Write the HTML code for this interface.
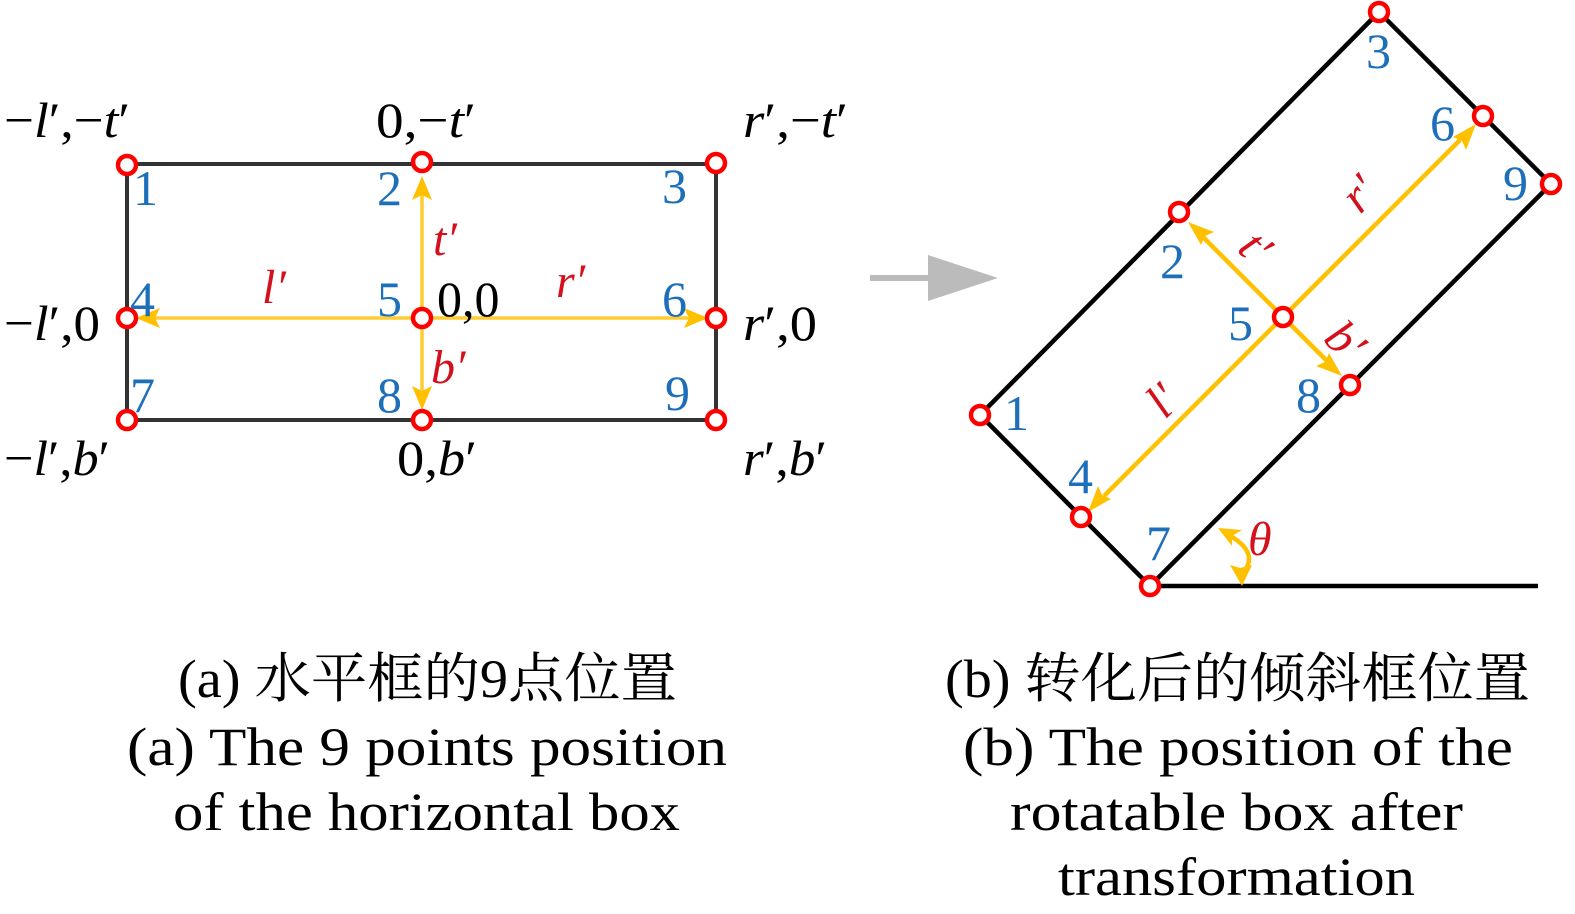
<!DOCTYPE html>
<html><head><meta charset="utf-8"><style>
html,body{margin:0;padding:0;background:#fff;}
svg{display:block;}
text{font-family:"Liberation Serif","Noto Serif CJK SC",serif;}
.b{fill:#1c6fb8;font-size:50px;}
.k{fill:#000;font-size:50px;}
.r{fill:#d4101c;font-size:48px;font-style:italic;}
.c{fill:#000;font-size:54px;}
.pt{fill:#fff;stroke:#f00;stroke-width:4.5;}
</style></head><body>
<svg width="1575" height="914" viewBox="0 0 1575 914" xmlns="http://www.w3.org/2000/svg">
<!-- left box -->
<rect x="127" y="164" width="589" height="256" fill="none" stroke="#333" stroke-width="4"/>
<g stroke="#ffcc33" stroke-width="3.5" fill="none">
<line x1="422" y1="318" x2="422" y2="192"/>
<line x1="422" y1="318" x2="422" y2="394"/>
<line x1="422" y1="318" x2="155" y2="318"/>
<line x1="422" y1="318" x2="690" y2="318"/>
</g>
<g fill="#ffc000">
<polygon points="422,176 412,200 422,195 432,200"/>
<polygon points="422,410 412,386 422,391 432,386"/>
<polygon points="136,318 160,308 155,318 160,328"/>
<polygon points="708,318 684,308 689,318 684,328"/>
</g>
<g class="pt">
<circle cx="127" cy="165" r="9"/><circle cx="422" cy="162" r="9"/><circle cx="716" cy="163" r="9"/>
<circle cx="127" cy="318" r="9"/><circle cx="422" cy="318" r="9"/><circle cx="716" cy="318" r="9"/>
<circle cx="127" cy="420" r="9"/><circle cx="422" cy="420" r="9"/><circle cx="716" cy="420" r="9"/>
</g>
<g class="b">
<text x="133" y="205">1</text><text x="377" y="205">2</text><text x="662" y="203">3</text>
<text x="130" y="316">4</text><text x="377" y="316">5</text><text x="662" y="316">6</text>
<text x="130" y="412">7</text><text x="377" y="412">8</text><text x="665" y="410">9</text>
</g>
<g class="k">
<text x="4" y="137" textLength="126" lengthAdjust="spacingAndGlyphs">−<tspan font-style="italic">l</tspan>′,−<tspan font-style="italic">t</tspan>′</text>
<text x="376" y="137" textLength="100" lengthAdjust="spacingAndGlyphs">0,−<tspan font-style="italic">t</tspan>′</text>
<text x="743" y="137" textLength="105" lengthAdjust="spacingAndGlyphs"><tspan font-style="italic">r</tspan>′,−<tspan font-style="italic">t</tspan>′</text>
<text x="437" y="316">0,0</text>
<text x="4" y="340" textLength="96" lengthAdjust="spacingAndGlyphs">−<tspan font-style="italic">l</tspan>′,0</text>
<text x="743" y="340" textLength="74" lengthAdjust="spacingAndGlyphs"><tspan font-style="italic">r</tspan>′,0</text>
<text x="4" y="475" textLength="106" lengthAdjust="spacingAndGlyphs">−<tspan font-style="italic">l</tspan>′,<tspan font-style="italic">b</tspan>′</text>
<text x="397" y="475" textLength="80" lengthAdjust="spacingAndGlyphs">0,<tspan font-style="italic">b</tspan>′</text>
<text x="743" y="475" textLength="84" lengthAdjust="spacingAndGlyphs"><tspan font-style="italic">r</tspan>′,<tspan font-style="italic">b</tspan>′</text>
</g>
<g class="r">
<text x="262" y="303">l′</text><text x="556" y="297">r′</text>
<text x="433" y="255">t′</text><text x="431" y="383">b′</text>
</g>
<!-- gray arrow -->
<line x1="870" y1="278" x2="932" y2="278" stroke="#bbb" stroke-width="6"/>
<polygon points="928,255 998,278 928,301" fill="#bbb"/>
<!-- right box -->
<polygon points="1379,12 1551,184 1150,586 980,415" fill="none" stroke="#000" stroke-width="4.5"/>
<line x1="1150" y1="586" x2="1538" y2="586" stroke="#000" stroke-width="4.5"/>
<g stroke="#ffc000" stroke-width="4.5" fill="none">
<line x1="1283" y1="317" x2="1202" y2="236"/>
<line x1="1283" y1="317" x2="1328" y2="362"/>
<line x1="1283" y1="317" x2="1460" y2="140"/>
<line x1="1283" y1="317" x2="1104" y2="496"/>
<path d="M1225,533 Q1262,552 1242,574"/>
</g>
<g fill="#ffc000">
<polygon points="1188,222 1214,232 1205,236 1201,245"/>
<polygon points="1342,376 1316,366 1325,362 1329,353"/>
<polygon points="1476,124 1466,150 1462,141 1453,137"/>
<polygon points="1088,512 1098,486 1102,495 1111,499"/>
<polygon points="1218,528 1242,530 1232,536 1232,546"/>
<polygon points="1242,586 1230,565 1240,568 1252,565"/>
</g>
<g class="pt">
<circle cx="1379" cy="12" r="9"/><circle cx="1483" cy="116" r="9"/><circle cx="1551" cy="184" r="9"/>
<circle cx="1179" cy="212" r="9"/><circle cx="1283" cy="317" r="9"/><circle cx="1350" cy="385" r="9"/>
<circle cx="980" cy="415" r="9"/><circle cx="1081" cy="517" r="9"/><circle cx="1150" cy="586" r="9"/>
</g>
<g class="b">
<text x="1366" y="68">3</text><text x="1430" y="140">6</text><text x="1503" y="200">9</text>
<text x="1160" y="278">2</text><text x="1228" y="340">5</text><text x="1296" y="412">8</text>
<text x="1004" y="430">1</text><text x="1068" y="493">4</text><text x="1146" y="560">7</text>
</g>
<g class="r">
<text x="1248" y="555">θ</text>
<text transform="translate(1360,215) rotate(-45)">r′</text>
<text transform="translate(1236,250) rotate(45)">t′</text>
<text transform="translate(1322,340) rotate(45)">b′</text>
<text transform="translate(1165,420) rotate(-45)">l′</text>
</g>
<!-- captions -->
<g class="c">
<text x="178" y="697" textLength="499" lengthAdjust="spacingAndGlyphs">(a) 水平框的9点位置</text>
<text x="127" y="765" textLength="600" lengthAdjust="spacingAndGlyphs">(a) The 9 points position</text>
<text x="173" y="830" textLength="507" lengthAdjust="spacingAndGlyphs">of the horizontal box</text>
<text x="945" y="697" textLength="585" lengthAdjust="spacingAndGlyphs">(b) 转化后的倾斜框位置</text>
<text x="963" y="765" textLength="550" lengthAdjust="spacingAndGlyphs">(b) The position of the</text>
<text x="1010" y="830" textLength="453" lengthAdjust="spacingAndGlyphs">rotatable box after</text>
<text x="1058" y="895" textLength="357" lengthAdjust="spacingAndGlyphs">transformation</text>
</g>
</svg>
</body></html>
